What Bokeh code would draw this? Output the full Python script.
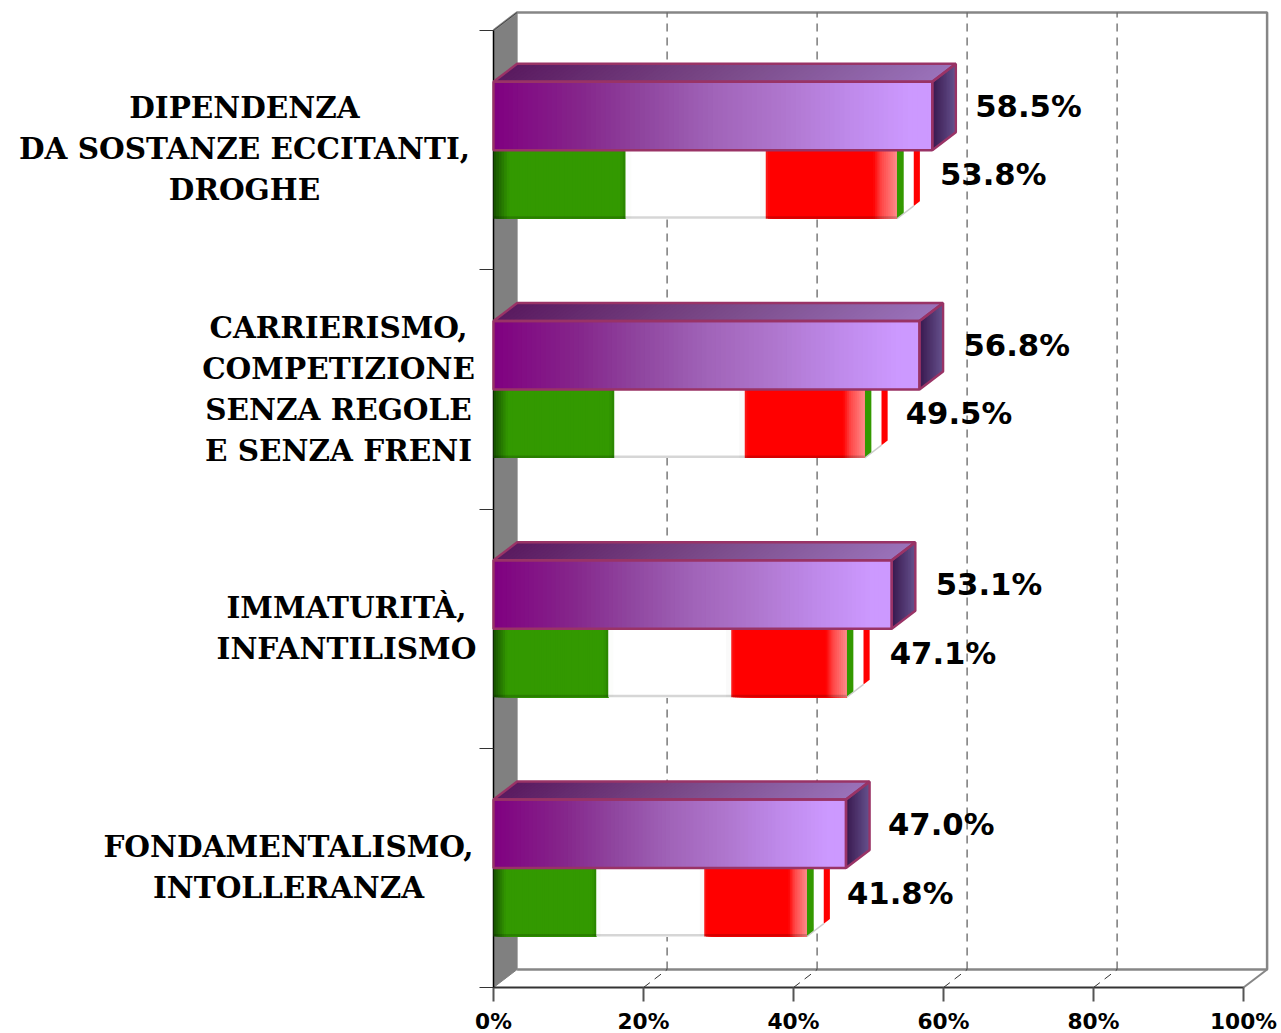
from bokeh.plotting import figure
from bokeh.models import Range1d, LinearAxis, FixedTicker, PrintfTickFormatter
from bokeh.core.properties import value
from bokeh.embed import file_html
from bokeh.resources import INLINE

# ---- data (bottom category first) ----
CATEGORY_LINES = [
    ["FONDAMENTALISMO,", "INTOLLERANZA"],
    ["IMMATURITÀ,", "INFANTILISMO"],
    ["CARRIERISMO,", "COMPETIZIONE", "SENZA REGOLE", "E SENZA FRENI"],
    ["DIPENDENZA", "DA SOSTANZE ECCITANTI,", "DROGHE"],
]
PURPLE_VALUES = [47.0, 53.1, 56.8, 58.5]
FLAG_VALUES = [41.8, 47.1, 49.5, 53.8]
FLAG_GREEN_END = [13.7, 15.3, 16.1, 17.6]
FLAG_WHITE_END = [28.1, 31.7, 33.5, 36.3]
X_TICKS = [0, 20, 40, 60, 80, 100]

# ---- layout ----
W, H = 1281, 1033
PX_X0, PX_Y0 = 493, 987          # image pixel of value 0 / category 0
PX_PER_PCT = 7.5
PX_PER_CAT = 239.25
DX = 23.6 / PX_PER_PCT           # 3-D depth
DY = 18 / PX_PER_CAT
BAR_H = 68.5 / PX_PER_CAT
FLAG_OFFSET = 51 / PX_PER_CAT
N_CAT = len(CATEGORY_LINES)
LABEL_CENTER_PX = [288, 346, 338, 244]
LABEL_FIRST_LINE_PX = [846, 607, 327, 107]
LINE_PITCH_PX = 41
PURPLE_LABEL_GAP_PX = [42, 44, 44, 43]
FLAG_LABEL_GAP_PX = [40, 43, 41, 43]
PURPLE_LABEL_DY_PX = [11, 10, 10, 10]
FLAG_LABEL_DY_PX = [11, 10, 10, 10]

p = figure(width=W, height=H, output_backend="svg", toolbar_location=None,
           x_range=Range1d(-PX_X0 / PX_PER_PCT, (W - PX_X0) / PX_PER_PCT),
           y_range=Range1d((PX_Y0 - H) / PX_PER_CAT, PX_Y0 / PX_PER_CAT),
           min_border_left=0, min_border_right=0, min_border_top=0,
           min_border_bottom=0, x_axis_location=None, y_axis_location=None)
p.outline_line_color = None
p.grid.visible = False
p.background_fill_color = "white"
p.border_fill_color = "white"


def hx(c):
    return "#%02x%02x%02x" % tuple(int(round(v)) for v in c)


def grad(stops, f):
    for (a, ca), (b, cb) in zip(stops, stops[1:]):
        if f <= b:
            t = (f - a) / (b - a) if b > a else 0
            return hx([ca[i] + (cb[i] - ca[i]) * t for i in range(3)])
    return hx(stops[-1][1])


def strips(x0, x1, n, stops):
    """Overlapping strips: each runs to the bar's end and the next paints over it."""
    w = (x1 - x0) / n
    return [x0 + i * w for i in range(n)], [grad(stops, (i + .5) / n) for i in range(n)]


# ---- walls ----
top_y = N_CAT + DY
p.patch([0, DX, DX, 0], [0, DY, top_y, N_CAT], fill_color="#808080", line_color="#808080", line_width=1)
WALL = "#868686"
p.line([0, DX, 100 + DX, 100 + DX, DX], [N_CAT, top_y, top_y, DY, DY], line_color=WALL, line_width=2.5)
p.line([100, 100 + DX], [0, DY], line_color=WALL, line_width=2)
p.line([0, DX], [N_CAT, top_y], line_color="#444444", line_width=1)

grid_x = X_TICKS[1:-1]
p.segment([v + DX for v in grid_x], [DY] * 4, [v + DX for v in grid_x], [top_y] * 4,
          line_color="#666666", line_width=1.3, line_dash="8 6")
p.segment(grid_x, [0] * 4, [v + DX for v in grid_x], [DY] * 4,
          line_color="#333333", line_width=1, line_dash="8 6")

# ---- axes ----
xax = LinearAxis(ticker=FixedTicker(ticks=X_TICKS), bounds=(0, 100), fixed_location=0,
                 formatter=PrintfTickFormatter(format="%d%%"))
xax.axis_line_color = "#333333"
xax.axis_line_width = 2
xax.major_tick_line_color = "#555555"
xax.major_tick_line_width = 2
xax.major_tick_out = 14
xax.major_tick_in = 0
xax.minor_tick_out = 0
xax.minor_tick_in = 0
xax.major_label_standoff = 7
xax.major_label_text_font = "DejaVu Sans"
xax.major_label_text_font_style = "bold"
xax.major_label_text_font_size = "21.7px"
xax.major_label_text_color = "black"
p.add_layout(xax, "below")

yax = LinearAxis(ticker=FixedTicker(ticks=list(range(N_CAT + 1))), bounds=(0, N_CAT), fixed_location=0)
yax.axis_line_color = "black"
yax.axis_line_width = 1.5
yax.major_tick_line_color = "#333333"
yax.major_tick_line_width = 1
yax.major_tick_out = 14
yax.major_tick_in = 0
yax.minor_tick_out = 0
yax.minor_tick_in = 0
yax.major_label_text_color = None
yax.major_label_text_font_size = "1px"
p.add_layout(yax, "left")

# ---- bars ----
GREEN = (51, 153, 0)
GREEN_STOPS = [(0, (22, 80, 0)), (.12, GREEN), (.96, GREEN), (1, (40, 130, 0))]
WHITE_STOPS = [(0, (250, 252, 248)), (.05, (255, 255, 255)), (.97, (255, 255, 255)), (1, (240, 240, 240))]
RED_STOPS = [(0, (250, 30, 30)), (.03, (255, 0, 0)), (.82, (255, 0, 0)), (.88, (255, 70, 70)), (1, (255, 140, 140))]
PURPLE_STOPS = [(0, (128, 0, 128)), (.2, (133, 38, 139)), (.35, (144, 71, 160)), (.5, (160, 99, 184)),
                (.65, (174, 117, 204)), (.8, (189, 136, 232)), (.95, (204, 153, 255)), (1, (204, 153, 255))]
PURPLE_TOP = [(0, (90, 26, 96)), (.5, (122, 74, 136)), (1, (154, 114, 186))]
PURPLE_SIDE = [(0, (56, 24, 78)), (1, (102, 82, 142))]
EDGE = "#993366"
LVL = "annotation"

for i in range(N_CAT):
    yb = i + FLAG_OFFSET
    yt = yb + BAR_H
    # flag bar: end face stripes, then stretched flag
    end = FLAG_VALUES[i]
    for t0, t1, col in [(0, .29, "#339900"), (.29, .71, "#ffffff"), (.71, .97, "#ff0000")]:
        p.patch([end + DX * t0, end + DX * t1, end + DX * t1, end + DX * t0],
                [yb + DY * t0, yb + DY * t1, yt + DY * t1, yt + DY * t0],
                fill_color=col, line_color=None, level=LVL)
    p.line([end, end + DX * .71], [yb, yb + DY * .71], line_color="#cccccc", line_width=1.5, level=LVL)
    for x0, x1, n, st in [(0, FLAG_GREEN_END[i], 50, GREEN_STOPS),
                          (FLAG_GREEN_END[i], FLAG_WHITE_END[i], 24, WHITE_STOPS),
                          (FLAG_WHITE_END[i], end, 60, RED_STOPS)]:
        l, c = strips(x0, x1, n, st)
        p.quad(left=l, right=[x1] * n, bottom=[yb] * n, top=[yt] * n, fill_color=c, line_color=None, level=LVL)
    p.quad(left=[0], right=[end], bottom=[yb], top=[yb + 2.5 / PX_PER_CAT], fill_color="black",
           fill_alpha=.16, line_color=None, level=LVL)

    # purple bar
    yb2 = yt
    yt2 = yb2 + BAR_H
    val = PURPLE_VALUES[i]
    n = 90
    l, c = strips(0, val, n, PURPLE_STOPS)
    p.quad(left=l, right=[val] * n, bottom=[yb2] * n, top=[yt2] * n, fill_color=c, line_color=None, level=LVL)
    l, c = strips(0, val, n, PURPLE_TOP)
    p.patches([[a, val, val + DX, a + DX] for a in l], [[yt2, yt2, yt2 + DY, yt2 + DY]] * n,
              fill_color=c, line_color=None, level=LVL)
    l, c = strips(0, DX, 16, PURPLE_SIDE)
    p.patches([[val + a, val + DX, val + DX, val + a] for a in l],
              [[yb2 + a * DY / DX, yb2 + DY, yt2 + DY, yt2 + a * DY / DX] for a in l],
              fill_color=c, line_color=None, level=LVL)
    p.patch([0, val, val, 0], [yb2, yb2, yt2, yt2], fill_color=None, line_color=EDGE, line_width=2.4, level=LVL)
    p.patch([0, DX, val + DX, val], [yt2, yt2 + DY, yt2 + DY, yt2], fill_color=None, line_color=EDGE, line_width=2.4, level=LVL)
    p.patch([val, val + DX, val + DX, val], [yb2, yb2 + DY, yt2 + DY, yt2], fill_color=None, line_color=EDGE, line_width=2.4, level=LVL)

# ---- data labels ----
for vals, gaps, dys, row in [(PURPLE_VALUES, PURPLE_LABEL_GAP_PX, PURPLE_LABEL_DY_PX, 1.5),
                             (FLAG_VALUES, FLAG_LABEL_GAP_PX, FLAG_LABEL_DY_PX, .5)]:
    for i, v in enumerate(vals):
        p.text([v + gaps[i] / PX_PER_PCT], [i + FLAG_OFFSET + BAR_H * row],
               text=["%.1f%%" % v], y_offset=-dys[i] if False else -10 + (0 if dys[i] == 10 else 1),
               text_font=value("DejaVu Sans"), text_font_style="bold", text_font_size="30.7px",
               text_baseline="middle", text_align="left", text_color="black", level="overlay")

# ---- category labels ----
for i, lines in enumerate(CATEGORY_LINES):
    for k, line in enumerate(lines):
        p.text([(LABEL_CENTER_PX[i] - PX_X0) / PX_PER_PCT],
               [(PX_Y0 - LABEL_FIRST_LINE_PX[i] - k * LINE_PITCH_PX) / PX_PER_CAT],
               text=[line], text_font=value("DejaVu Serif"), text_font_style="bold",
               text_font_size="29.5px", text_align="center", text_baseline="middle",
               text_color="black", level="overlay")

open("out.html", "w").write(file_html(p, INLINE))
